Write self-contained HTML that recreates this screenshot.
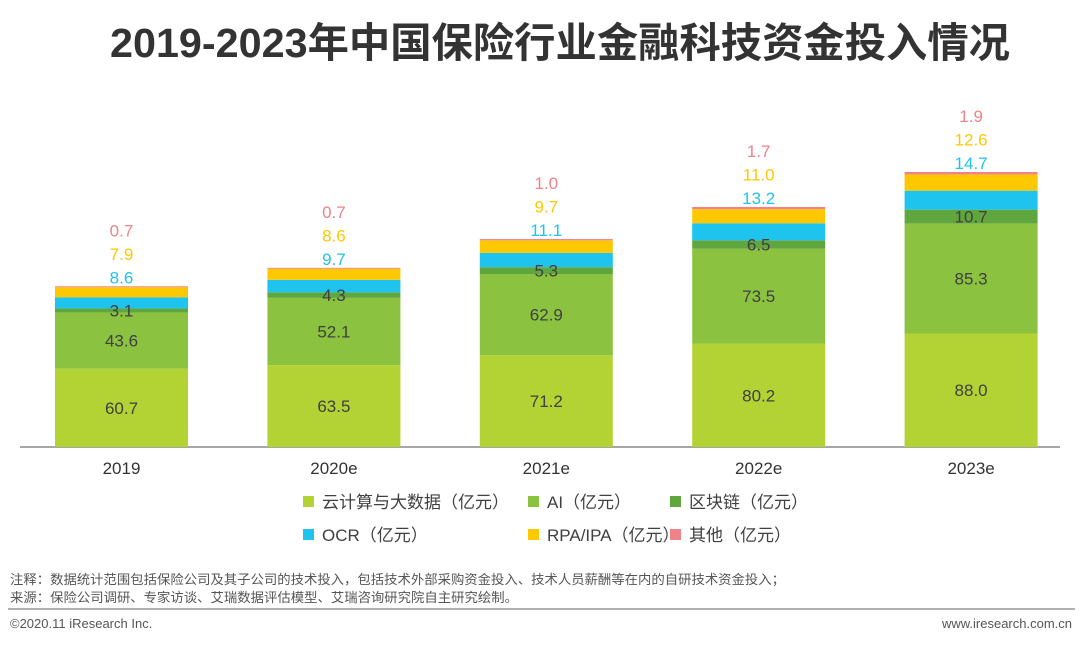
<!DOCTYPE html>
<html><head><meta charset="utf-8"><style>
body{margin:0;width:1080px;height:643px;background:#fff;overflow:hidden;font-family:"Liberation Sans","Noto Sans CJK SC",sans-serif;}
</style></head><body>
<svg id="chart" width="1080" height="643" xmlns="http://www.w3.org/2000/svg" font-family="Liberation Sans, Noto Sans CJK SC, sans-serif">
<text x="560" y="57" text-anchor="middle" font-size="41" font-weight="bold" fill="#333" textLength="900" lengthAdjust="spacingAndGlyphs">2019-2023年中国保险行业金融科技资金投入情况</text>
<line x1="20" y1="447" x2="1060" y2="447" stroke="#888" stroke-width="1.5"/>
<g id="bars"></g>
<g id="legend"></g>
<text x="10" y="584" font-size="13" fill="#555" textLength="775" lengthAdjust="spacingAndGlyphs">注释：数据统计范围包括保险公司及其子公司的技术投入，包括技术外部采购资金投入、技术人员薪酬等在内的自研技术资金投入；</text>
<text x="10" y="602" font-size="13" fill="#555" textLength="508" lengthAdjust="spacingAndGlyphs">来源：保险公司调研、专家访谈、艾瑞数据评估模型、艾瑞咨询研究院自主研究绘制。</text>
<line x1="8" y1="609" x2="1075" y2="609" stroke="#999" stroke-width="1.5"/>
<text x="10" y="628" font-size="13" fill="#555">©2020.11 iResearch Inc.</text>
<text x="1072" y="628" text-anchor="end" font-size="13" fill="#555">www.iresearch.com.cn</text>
</svg>
<script>
const categories=["2019","2020e","2021e","2022e","2023e"];
const cloud=[60.7,63.5,71.2,80.2,88.0];
const ai=[43.6,52.1,62.9,73.5,85.3];
const chain=[3.1,4.3,5.3,6.5,10.7];
const ocr=[8.6,9.7,11.1,13.2,14.7];
const rpa=[7.9,8.6,9.7,11.0,12.6];
const other=[0.7,0.7,1.0,1.7,1.9];
const seriesNames=["云计算与大数据（亿元）","AI（亿元）","区块链（亿元）","OCR（亿元）","RPA/IPA（亿元）","其他（亿元）"];
const colors=["#b3d234","#8bc240","#5fa63e","#1ec4ee","#fec800","#f0828a"];
const NS="http://www.w3.org/2000/svg";
const base=447,scale=1.29,x0=121.5,step=212.4,bw=133;
function xc(i){return x0+i*step;}
function yv(v){return base-v*scale;}
const all=[cloud,ai,chain,ocr,rpa,other];
const g=document.getElementById('bars');
function mk(t,a){const e=document.createElementNS(NS,t);for(const k in a)e.setAttribute(k,a[k]);return e;}
categories.forEach((c,i)=>{
  let cum=0;
  all.forEach((s,j)=>{
    const y1=yv(cum),y2=yv(cum+s[i]);
    const r=mk('rect',{x:xc(i)-bw/2,y:y2,width:bw,height:y1-y2,fill:colors[j]});
    
    
    g.appendChild(r);
    cum+=s[i];
  });
  let c2=0;
  [0,1,2].forEach(j=>{
    const mid=yv(c2+all[j][i]/2);c2+=all[j][i];
    const t=mk('text',{x:xc(i),y:mid+6,'text-anchor':'middle','font-size':17,fill:'#404040'});
    t.textContent=all[j][i].toFixed(1);
    
    
    g.appendChild(t);
  });
  const top=yv(cum);
  [3,4,5].forEach((j,k)=>{
    const t=mk('text',{x:xc(i),y:top-3-k*23.5,'text-anchor':'middle','font-size':17,fill:colors[j]});
    t.textContent=all[j][i].toFixed(1);
    
    
    g.appendChild(t);
  });
  const l=mk('text',{x:xc(i),y:474,'text-anchor':'middle','font-size':17,fill:'#333'});
  l.textContent=c;
  
  
  g.appendChild(l);
});
const lg=document.getElementById('legend');
const lx=[303,528,670],ly=[502,535];
seriesNames.forEach((n,j)=>{
  const x=lx[j%3],y=ly[Math.floor(j/3)];
  const r=mk('rect',{x:x,y:y-6,width:11,height:11,fill:colors[j]});
  
  
  lg.appendChild(r);
  const t=mk('text',{x:x+19,y:y+6,'font-size':17,fill:'#404040'});
  t.textContent=n;
  
  
  lg.appendChild(t);
});
</script>
</body></html>
